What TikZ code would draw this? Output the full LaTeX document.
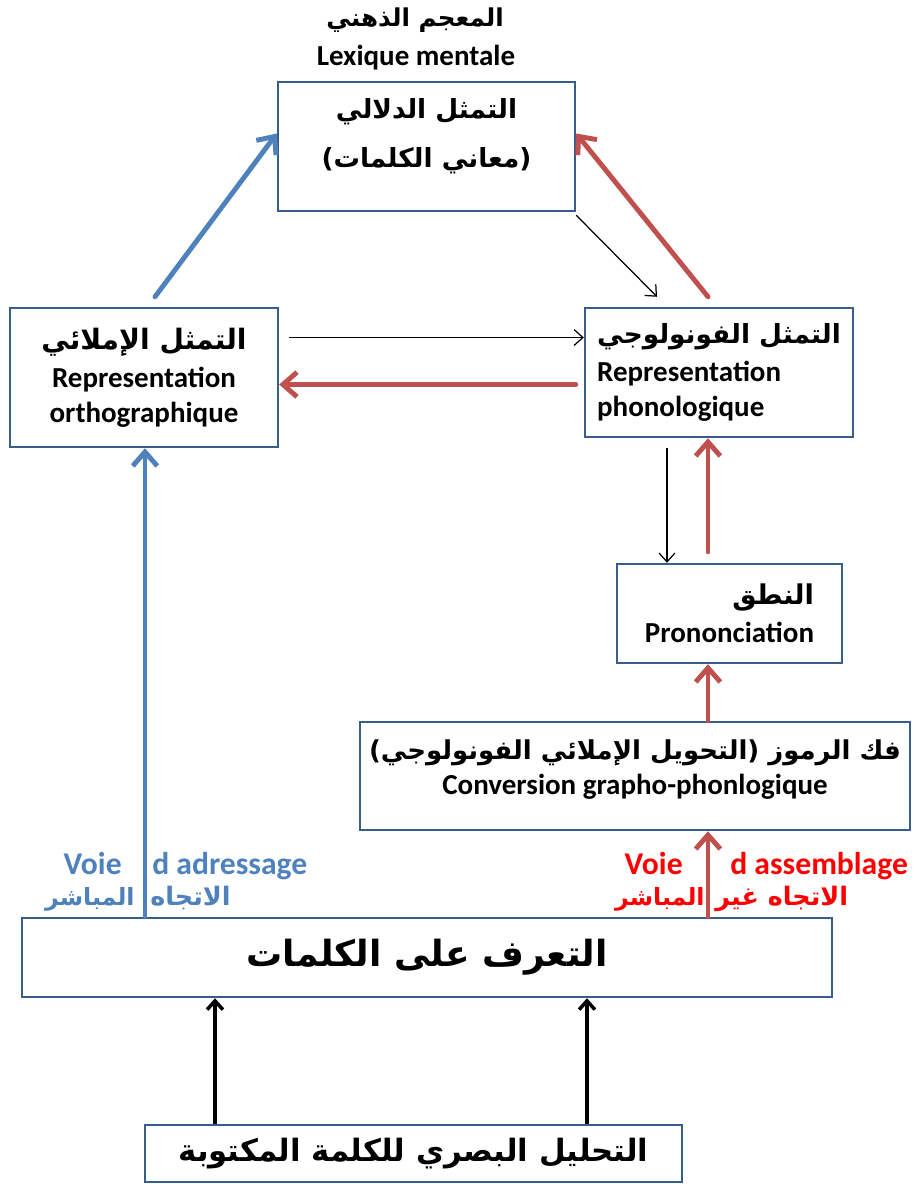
\documentclass[tikz,border=0pt]{standalone}
\usepackage{fontspec}
\setmainfont{Carlito}
\newfontfamily\arabicfont[Script=Arabic]{DejaVu Sans}
\TeXXeTstate=1
\usetikzlibrary{arrows.meta}
\definecolor{boxblue}{HTML}{385D8A}
\definecolor{arrblue}{HTML}{4F81BD}
\definecolor{arrred}{HTML}{C0504D}
\definecolor{txtred}{HTML}{FF0000}
\newcommand{\ar}[1]{{\arabicfont\bfseries\beginR #1\endR}}
\newcommand{\fs}[1]{\fontsize{#1}{1.2\dimexpr #1\relax}\selectfont}

\begin{document}
\begin{tikzpicture}[x=0.02cm, y=-0.02cm,
    box/.style={draw=boxblue, line width=1.4pt, align=center, inner sep=2pt, font=\bfseries\fs{16.5pt}},
    lbl/.style={inner sep=0pt, font=\bfseries},
    bluearrow/.style={draw=arrblue, line width=2.8pt, line cap=round, -{Straight Barb[length=8pt, width=14pt]}},
    redarrow/.style={draw=arrred, line width=2.8pt, line cap=round, -{Straight Barb[length=8pt, width=14pt]}},
    thinarrow/.style={draw=black, line width=0.7pt, -{Straight Barb[length=5pt, width=9pt]}},
    blackarrow/.style={draw=black, line width=2pt, -{Straight Barb[length=5pt, width=9pt]}}]
    \useasboundingbox (0,0) rectangle (917,1184);

    % Title
    \node[lbl] (lexar) at (415,20) {\fs{14pt}\ar{المعجم الذهني}};
    \node[lbl] (lexfr) at (416,58) {\fs{16.5pt}Lexique mentale};

    % Boxes
    \node[box, minimum width=5.94cm, minimum height=2.58cm] (sem) at (426.5,146.5)
        {\fs{15pt}\ar{التمثل الدلالي}\\[8pt] \fs{15pt}\ar{(معاني الكلمات)}\\[-4pt]};
    \node[box, minimum width=5.36cm, minimum height=2.78cm] (ortho) at (144,377.5)
        {\fs{16pt}\ar{التمثل الإملائي}\\[2pt] Representation\\ orthographique};
    \node[box, align=left, minimum width=5.36cm, minimum height=2.58cm] (phono) at (719,372.5)
        {\fs{15pt}\ar{التمثل الفونولوجي}\\[2pt] Representation\\ phonologique};
    \node[box, align=right, minimum width=4.5cm, minimum height=1.98cm] (pron) at (729.5,613.5)
        {\fs{15.5pt}\ar{النطق}\\[2pt] Prononciation};
    \node[box, minimum width=11cm, minimum height=2.16cm] (conv) at (635,776)
        {\fs{14.8pt}\ar{فك الرموز (التحويل الإملائي الفونولوجي)}\\ Conversion grapho-phonlogique\\[-10pt]};
    \node[box, minimum width=16.2cm, minimum height=1.58cm] (recog) at (427,957.5)
        {\fs{20.5pt}\ar{التعرف على الكلمات}};
    \node[box, minimum width=10.74cm, minimum height=1.14cm] (visual) at (413.5,1153.5)
        {\fs{17.5pt}\ar{التحليل البصري للكلمة المكتوبة}};

    % Route labels
    \node[lbl, arrblue, anchor=base east] (voieA) at (122,874) {\fs{18pt}Voie};
    \node[lbl, arrblue, anchor=base west] (adressage) at (152,874) {\fs{18pt}d adressage};
    \node[lbl, arrblue, anchor=base east] (directA) at (135,905) {\fs{13.5pt}\ar{المباشر}};
    \node[lbl, arrblue, anchor=base west] (directB) at (150,905) {\fs{14.5pt}\ar{الاتجاه}};
    \node[lbl, txtred, anchor=base east] (voieB) at (683,874) {\fs{18pt}Voie};
    \node[lbl, txtred, anchor=base west] (assemblage) at (730,874) {\fs{18pt}d assemblage};
    \node[lbl, txtred, anchor=base east] (indirectA) at (705,905) {\fs{13.5pt}\ar{المباشر}};
    \node[lbl, txtred, anchor=base west] (indirectB) at (715,905) {\fs{14.5pt}\ar{الاتجاه غير}};

    % Columns of the vertical arrows
    \coordinate (bluex) at (145,0);
    \coordinate (redx) at (708,0);
    \coordinate (leftx) at (215,0);
    \coordinate (rightx) at (587,0);

    % Triangle around the lexicon
    \draw[bluearrow] ([shift={(11,-10)}]ortho.north) -- ([shift={(0,-13)}]sem.west);
    \draw[redarrow] ([shift={(-11,-10)}]phono.north) -- ([shift={(0,-13)}]sem.east);
    \draw[thinarrow] ([shift={(0,3)}]sem.south east) -- ([shift={(-62,-10)}]phono.north);
    \coordinate (h1) at ([shift={(10,-40)}]ortho.east);
    \draw[thinarrow] (h1) -- (h1 -| phono.west);
    \coordinate (h2) at ([shift={(-8,12)}]phono.west);
    \draw[redarrow] (h2) -- (h2 -| ortho.east);

    % Phonological path
    \coordinate (v1) at ([shift={(-52,10)}]phono.south);
    \draw[thinarrow] (v1) -- (v1 |- pron.north);
    \draw[redarrow] ([shift={(-21.5,-11)}]pron.north) -- (redx |- phono.south);
    \draw[redarrow] (conv.north -| redx) -- (redx |- pron.south);
    \draw[redarrow] (recog.north -| redx) -- (redx |- conv.south);

    % Direct path
    \draw[bluearrow] (recog.north -| bluex) -- (bluex |- ortho.south);

    % Visual analysis
    \draw[blackarrow] (visual.north -| leftx) -- (leftx |- recog.south);
    \draw[blackarrow] (visual.north -| rightx) -- (rightx |- recog.south);
\end{tikzpicture}
\end{document}
